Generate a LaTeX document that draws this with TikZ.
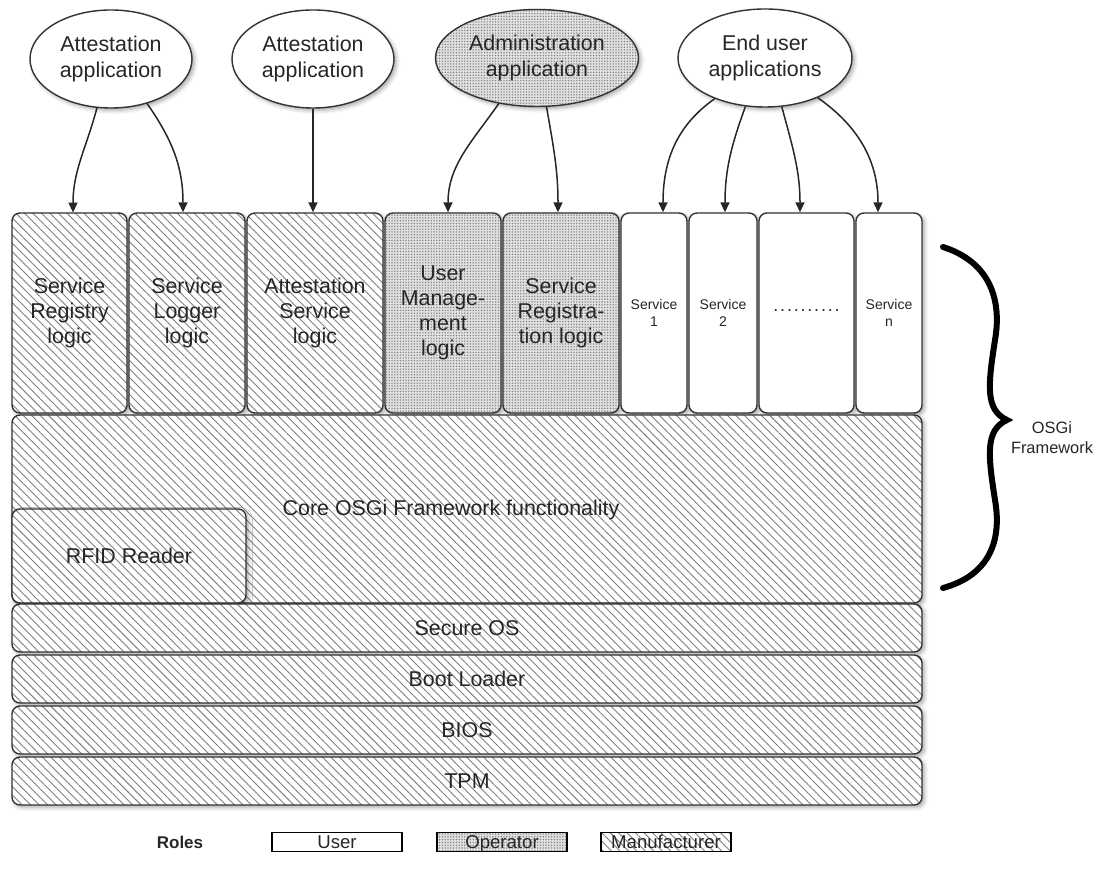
\documentclass[tikz,border=0pt]{standalone}
\usepackage{fontspec}
\setmainfont{Liberation Sans}
\usetikzlibrary{patterns.meta,shadows.blur,arrows.meta,shapes.geometric}
\begin{document}
\begin{tikzpicture}[x=0.5pt,y=-0.5pt,
  every node/.style={font=\fontsize{10.7}{12.6}\selectfont, text=black!85},
  dshadow/.style={blur shadow={shadow xshift=1.2pt,shadow yshift=-1.2pt,shadow blur radius=2pt,shadow opacity=35}},
  hatchfill/.style={preaction={fill=white}, pattern={Lines[angle=-45,distance=3pt,line width=0.45pt]}, pattern color=black!50},
  opfill/.style={preaction={fill=black!12}, pattern={Dots[distance=1.4pt,radius=0.38pt]}, pattern color=black!50},
  userfill/.style={fill=white},
  blk/.style={draw=black!80, line width=0.7pt, rounded corners=4pt, inner sep=1pt, align=center, dshadow},
  app/.style={ellipse, draw=black!80, line width=0.7pt, align=center, inner sep=0pt, dshadow},
  small/.style={font=\fontsize{7}{8.5}\selectfont},
  leg/.style={draw=black, line width=0.8pt, minimum width=65pt, minimum height=9.5pt, inner sep=0pt, text height=7pt, text depth=0.8pt, font=\fontsize{9.3}{10}\selectfont},
  arr/.style={draw=black!85, line width=0.75pt, -{Triangle[length=5pt,width=4.5pt]}},
]
\useasboundingbox (0,0) rectangle (1101,876);

% applications
\node[app, userfill, minimum width=81pt, minimum height=49pt] (e1) at (111,59) {Attestation\\application};
\node[app, userfill, minimum width=81pt, minimum height=49pt] (e2) at (313,59) {Attestation\\application};
\node[app, opfill, minimum width=101.5pt, minimum height=48.5pt] (e3) at (537,58) {Administration\\application};
\node[app, userfill, minimum width=87pt, minimum height=49pt] (e4) at (765,58) {End user\\applications};

% service boxes
\node[blk, hatchfill, minimum width=57.5pt, minimum height=100pt] (b1) at (69.5,313) {Service\\Registry\\logic};
\node[blk, hatchfill, minimum width=58pt, minimum height=100pt] (b2) at (187,313) {Service\\Logger\\logic};
\node[blk, hatchfill, minimum width=68pt, minimum height=100pt] (b3) at (315,313) {Attestation\\Service\\logic};
\node[blk, opfill, minimum width=58pt, minimum height=100pt] (b4) at (443,313) {User\\Manage-\\ment\\logic};
\node[blk, opfill, minimum width=58pt, minimum height=100pt] (b5) at (561,313) {Service\\Registra-\\tion logic};
\node[blk, userfill, small, minimum width=33pt, minimum height=100pt] (b6) at (654,313) {Service\\1};
\node[blk, userfill, small, minimum width=34pt, minimum height=100pt] (b7) at (723,313) {Service\\2};
\node[blk, userfill, minimum width=47.5pt, minimum height=100pt, font=\fontsize{9}{10}\selectfont] (b8) at (806.5,313) {\raisebox{2.5pt}{.\hspace{0.9pt}.\hspace{0.9pt}.\hspace{0.9pt}.\hspace{0.9pt}.\hspace{0.9pt}.\hspace{0.9pt}.\hspace{0.9pt}.\hspace{0.9pt}.\hspace{0.9pt}.}};
\node[blk, userfill, small, minimum width=33pt, minimum height=100pt] (b9) at (889,313) {Service\\n};

% core
\node[blk, hatchfill, minimum width=455pt, minimum height=94pt] (core) at (467,509) {};
\node (coretxt) at (451,510) {Core OSGi Framework functionality};
\node[blk, hatchfill, minimum width=117pt, minimum height=47pt] (rfid) at (129,556) {RFID Reader};

% layers
\node[blk, hatchfill, minimum width=455pt, minimum height=24pt] (sos) at (467,628) {Secure OS};
\node[blk, hatchfill, minimum width=455pt, minimum height=24pt] (boot) at (467,679) {Boot Loader};
\node[blk, hatchfill, minimum width=455pt, minimum height=24pt] (bios) at (467,730) {BIOS};
\node[blk, hatchfill, minimum width=455pt, minimum height=24pt] (tpm) at (467,781) {TPM};

% arrows
\draw[arr] (e1.254) to[out=-105,in=90] ([xshift=1.75pt]b1.north);
\draw[arr] (e1.309) to[out=-55,in=90] ([xshift=-2pt]b2.north);
\draw[arr] (e2.270) -- ([xshift=-1pt]b3.north);
\draw[arr] (e3.230) to[out=-125,in=90] ([xshift=2.5pt]b4.north);
\draw[arr] (e3.281) to[out=-80,in=90] ([xshift=-1.5pt]b5.north);
\draw[arr] (e4.219) to[out=-145,in=90] ([xshift=4.5pt]b6.north);
\draw[arr] (e4.248) to[out=-110,in=90] ([xshift=1pt]b7.north);
\draw[arr] (e4.289) to[out=-75,in=90] ([xshift=-3.25pt]b8.north);
\draw[arr] (e4.323) to[out=-35,in=90] ([xshift=-5.5pt]b9.north);

% brace
\draw[line width=3pt, line cap=round, line join=miter] (943,247) .. controls (990,262) and (1002,300) .. (995,340) .. controls (988,385) and (985,410) .. (1007,420) .. controls (985,430) and (988,455) .. (995,500) .. controls (1002,540) and (990,575) .. (943,588);
\node[font=\fontsize{8.2}{10}\selectfont, align=center] (osgi) at (1052,438) {OSGi\\Framework};

% legend
\node[font=\bfseries\fontsize{8.5}{10}\selectfont] (roles) at (180,842) {Roles};
\node[leg, userfill] (lu) at (337,842) {User};
\node[leg, opfill] (lo) at (502,842) {Operator};
\node[leg, hatchfill] (lm) at (666,842) {Manufacturer};
\end{tikzpicture}
\end{document}
